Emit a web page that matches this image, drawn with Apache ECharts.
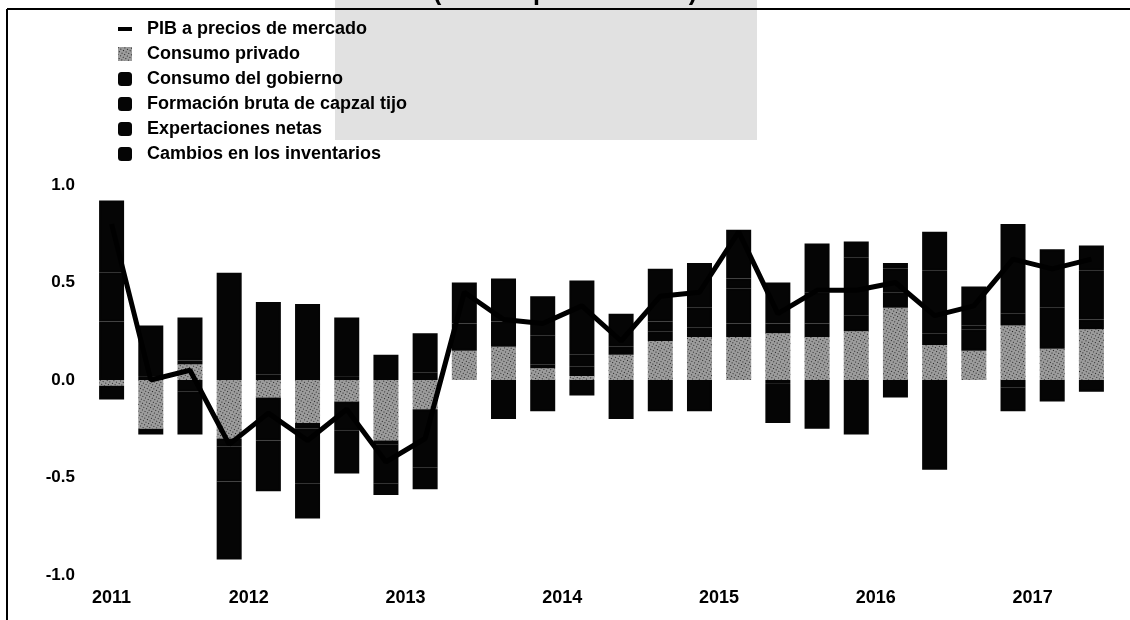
<!DOCTYPE html>
<html>
<head>
<meta charset="utf-8">
<script src="https://cdn.jsdelivr.net/npm/echarts@6/dist/echarts.min.js"></script>
<style>
  html, body { margin: 0; padding: 0; background: #fff; }
  #chart { width: 1130px; height: 620px; }
</style>
</head>
<body>
<div id="chart"></div>
<script>
// trimestres 2011T1 .. 2017T2
const quarters = [
  '2011T1', '2011T2', '2011T3', '2011T4', '2012T1', '2012T2', '2012T3', '2012T4',
  '2013T1', '2013T2', '2013T3', '2013T4', '2014T1', '2014T2', '2014T3', '2014T4',
  '2015T1', '2015T2', '2015T3', '2015T4', '2016T1', '2016T2', '2016T3', '2016T4',
  '2017T1', '2017T2'
]
// posicion de las etiquetas de año (en unidades de trimestre)
const yearTicks = [0, 3.5, 7.5, 11.5, 15.5, 19.5, 23.5]
const yearLabels = ['2011', '2012', '2013', '2014', '2015', '2016', '2017']

const pib = [0.80, 0.00, 0.05, -0.33, -0.17, -0.31, -0.15, -0.42, -0.30, 0.45, 0.31, 0.29, 0.38,
  0.20, 0.43, 0.45, 0.76, 0.34, 0.46, 0.46, 0.50, 0.33, 0.38, 0.62, 0.57, 0.62]
const privado = [-0.03, -0.25, 0.08, -0.30, -0.09, -0.22, -0.11, -0.31, -0.15, 0.15, 0.17, 0.06, 0.02,
  0.13, 0.20, 0.22, 0.22, 0.24, 0.22, 0.25, 0.37, 0.18, 0.15, 0.28, 0.16, 0.26]
const gobierno = [-0.07, -0.03, 0.02, -0.04, 0.03, -0.03, 0.02, -0.02, 0.04, 0.04, 0.03, 0.02, 0.05,
  0.04, 0.05, 0.05, 0.07, 0.05, 0.07, 0.08, 0.08, 0.06, 0.05, 0.06, 0.05, 0.05]
const fbcf = [0.30, 0.02, -0.06, -0.18, -0.22, -0.28, -0.15, -0.20, -0.30, 0.10, 0.10, 0.15, 0.06,
  -0.20, 0.05, 0.10, 0.18, -0.02, 0.16, 0.30, 0.12, 0.32, 0.06, 0.46, 0.16, 0.25]
const netas = [0.25, 0.16, 0.22, 0.55, 0.37, 0.39, 0.30, 0.13, 0.20, 0.10, -0.20, 0.20, -0.08,
  0.04, 0.27, 0.23, 0.05, 0.21, -0.25, -0.28, 0.03, -0.46, 0.02, -0.04, 0.30, -0.06]
const inventarios = [0.37, 0.10, -0.22, -0.40, -0.26, -0.18, -0.22, -0.06, -0.11, 0.11, 0.22, -0.16, 0.38,
  0.13, -0.16, -0.16, 0.25, -0.20, 0.25, 0.08, -0.09, 0.20, 0.20, -0.12, -0.11, 0.13]

const FONT = 'Liberation Sans'

function barSerie(name, data, style) {
  return {
    name: name,
    type: 'bar',
    stack: 'total',
    barWidth: 25,
    itemStyle: style,
    data: data
  }
}

// en el escaneo todos los componentes salen negros salvo el consumo privado
const black = { color: '#050505', borderColor: '#050505', borderWidth: 2 }
const speckle = {
  color: '#9c9c9c',
  decal: {
    symbol: 'rect',
    symbolSize: 0.9,
    color: 'rgba(0,0,0,0.85)',
    dashArrayX: [1, 2],
    dashArrayY: [1, 2],
    rotation: 0.5
  }
}

const chart = echarts.init(document.getElementById('chart'))

chart.setOption({
  backgroundColor: '#ffffff',
  animation: false,
  graphic: [
    {
      type: 'rect',
      z: -10,
      shape: { x: 335, y: 0, width: 422, height: 140 },
      style: { fill: '#e1e1e1' }
    },
    {
      type: 'text',
      z: 5,
      style: {
        x: 565,
        y: 6,
        text: '(Puntos porcentuales)',
        textAlign: 'center',
        textVerticalAlign: 'bottom',
        font: 'bold 25px "Liberation Sans"',
        fill: '#000'
      }
    },
    {
      type: 'line',
      z: 6,
      shape: { x1: 7, y1: 9, x2: 1130, y2: 9 },
      style: { stroke: '#000', lineWidth: 2 }
    },
    {
      type: 'line',
      z: 6,
      shape: { x1: 7, y1: 9, x2: 7, y2: 620 },
      style: { stroke: '#000', lineWidth: 2 }
    }
  ],
  legend: {
    orient: 'vertical',
    left: 113,
    top: 15,
    itemWidth: 14,
    itemHeight: 14,
    itemGap: 7,
    textStyle: {
      fontFamily: FONT,
      fontSize: 18,
      fontWeight: 'bold',
      color: '#000',
      padding: [0, 0, 0, 10]
    },
    data: [
      { name: 'PIB a precios de mercado', icon: 'path://M0,0H14V4H0Z' },
      { name: 'Consumo privado', icon: 'rect' },
      { name: 'Consumo del gobierno', icon: 'roundRect', itemStyle: { borderWidth: 0 } },
      { name: 'Formación bruta de capzal tijo', icon: 'roundRect', itemStyle: { borderWidth: 0 } },
      { name: 'Expertaciones netas', icon: 'roundRect', itemStyle: { borderWidth: 0 } },
      { name: 'Cambios en los inventarios', icon: 'roundRect', itemStyle: { borderWidth: 0 } }
    ]
  },
  grid: {
    left: 92,
    right: 19,
    top: 185,
    bottom: 45
  },
  xAxis: [
    {
      type: 'category',
      data: quarters,
      boundaryGap: true,
      axisLine: { show: false },
      axisTick: { show: false },
      axisLabel: { show: false },
      splitLine: { show: false }
    },
    {
      // eje solo para las etiquetas de año, alineado con las categorias
      type: 'value',
      position: 'bottom',
      min: -0.5,
      max: 25.5,
      interval: 0.5,
      axisLine: { show: false },
      axisTick: { show: false },
      splitLine: { show: false },
      axisLabel: {
        margin: 14,
        fontFamily: FONT,
        fontSize: 18,
        fontWeight: 'bold',
        color: '#000',
        formatter: function (v) {
          const k = yearTicks.indexOf(v)
          return k >= 0 ? yearLabels[k] : ''
        }
      }
    }
  ],
  yAxis: {
    type: 'value',
    min: -1,
    max: 1,
    interval: 0.5,
    axisLine: { show: false },
    axisTick: { show: false },
    splitLine: { show: false },
    axisLabel: {
      margin: 17,
      fontFamily: FONT,
      fontSize: 17,
      fontWeight: 'bold',
      color: '#000',
      formatter: function (v) {
        return v.toFixed(1)
      }
    }
  },
  series: [
    {
      name: 'PIB a precios de mercado',
      type: 'line',
      z: 5,
      showSymbol: false,
      symbol: 'none',
      lineStyle: { color: '#000', width: 5 },
      itemStyle: { color: '#000' },
      data: pib
    },
    barSerie('Consumo privado', privado, speckle),
    barSerie('Consumo del gobierno', gobierno, black),
    barSerie('Formación bruta de capzal tijo', fbcf, black),
    barSerie('Expertaciones netas', netas, black),
    barSerie('Cambios en los inventarios', inventarios, black)
  ]
})
</script>
</body>
</html>
